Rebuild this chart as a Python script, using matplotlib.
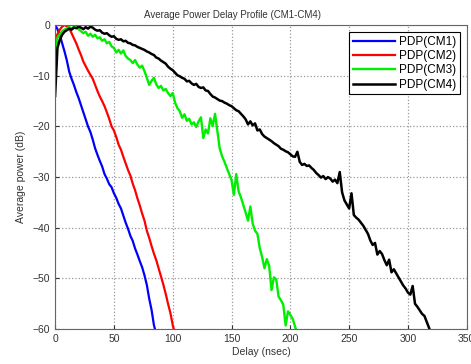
import numpy as np
import matplotlib.pyplot as plt

plt.rcParams['font.family'] = ['Liberation Sans', 'DejaVu Sans']

# sampling step of the profiles (ns)
paso = 2.0

pdp_cm1 = [0.0, -0.8, -2.0, -3.6, -5.2, -7.0, -9.2, -10.6, -11.8, -13.2,
           -14.4, -15.8, -17.2, -18.6, -20.0, -21.1, -22.6, -24.3, -25.6, -26.8,
           -27.9, -29.4, -30.3, -31.4, -32.0, -33.2, -34.1, -35.3, -36.2, -37.6,
           -39.0, -40.2, -41.6, -42.6, -44.1, -45.3, -46.6, -47.8, -49.4, -51.3,
           -54.0, -56.2, -59.2, -61.0]

pdp_cm2 = [-3.0, -1.8, -0.9, -0.3, 0.0, -0.2, -0.6, -1.6, -2.6, -3.6,
           -4.8, -5.9, -7.2, -8.1, -9.0, -9.8, -10.6, -11.8, -13.0, -14.1,
           -15.0, -16.0, -17.2, -18.5, -20.0, -20.8, -22.1, -23.6, -24.6, -26.0,
           -27.3, -28.6, -29.7, -31.3, -32.6, -34.2, -35.6, -37.2, -38.6, -40.6,
           -42.0, -43.6, -45.1, -46.4, -48.0, -49.6, -51.2, -53.0, -55.0, -56.8,
           -59.2, -61.0]

pdp_cm3 = [-6.3, -2.5, -1.8, -1.2, -0.9, -0.6, -0.4, -0.7, -0.3, -0.5,
           -0.8, -1.2, -1.6, -1.3, -2.1, -1.7, -2.3, -1.9, -2.6, -2.4,
           -3.1, -2.8, -3.6, -3.3, -4.2, -4.5, -5.4, -4.9, -5.6, -5.0,
           -6.1, -6.6, -6.9, -7.5, -6.9, -7.8, -8.4, -8.0, -9.1, -10.4,
           -11.8, -11.0, -10.4, -11.7, -12.4, -12.0, -12.9, -12.6, -13.4, -14.0,
           -13.4, -15.3, -16.4, -17.0, -18.3, -17.6, -18.9, -18.5, -19.6, -19.2,
           -20.1, -19.0, -18.2, -22.3, -20.6, -21.4, -18.4, -19.9, -17.5, -21.0,
           -24.4, -25.9, -27.0, -28.2, -29.4, -30.6, -33.5, -29.4, -32.8, -34.0,
           -35.5, -37.0, -38.6, -35.8, -39.2, -40.6, -41.2, -44.0, -45.8, -48.0,
           -46.2, -47.5, -52.3, -49.8, -50.2, -53.6, -54.3, -55.2, -59.3, -56.5,
           -57.2, -58.0, -59.5, -61.0]

pdp_cm4 = [-14.0, -4.5, -2.9, -1.9, -1.3, -1.0, -0.7, -0.9, -0.5, -0.6,
           -0.3, -0.5, -0.8, -0.4, -0.7, -0.3, -0.5, -0.9, -1.1, -1.0,
           -1.5, -1.7, -1.6, -2.0, -2.3, -2.2, -2.7, -2.9, -2.8, -3.2,
           -3.1, -3.5, -3.6, -3.9, -4.0, -4.3, -4.5, -4.7, -4.9, -5.2,
           -5.4, -5.7, -5.9, -6.4, -6.6, -7.0, -7.3, -7.6, -8.2, -8.6,
           -8.9, -9.4, -9.9, -10.1, -10.4, -10.6, -11.1, -11.0, -11.5, -11.8,
           -11.6, -12.2, -12.4, -12.3, -12.9, -13.0, -13.6, -14.1, -14.3, -14.6,
           -14.9, -15.0, -15.3, -15.5, -15.8, -16.0, -16.4, -16.8, -17.0, -17.5,
           -18.0, -18.6, -19.6, -19.0, -19.8, -19.4, -20.8, -20.6, -21.5, -22.0,
           -22.3, -22.6, -22.9, -23.3, -23.6, -23.9, -24.4, -24.6, -24.9, -25.1,
           -25.5, -25.9, -26.0, -25.0, -27.0, -27.6, -27.4, -27.8, -27.7, -28.2,
           -28.6, -29.2, -29.6, -30.1, -29.8, -30.4, -30.0, -30.3, -30.9, -30.5,
           -31.2, -29.0, -33.0, -34.6, -35.4, -36.2, -33.2, -37.5, -38.0, -38.4,
           -39.0, -39.6, -40.4, -41.2, -42.5, -43.4, -43.0, -45.3, -44.6, -45.2,
           -46.4, -47.4, -46.3, -48.8, -48.2, -49.0, -49.8, -50.6, -51.4, -52.0,
           -52.8, -53.2, -51.5, -55.0, -55.6, -56.3, -57.0, -57.4, -58.6, -59.8,
           -61.0]

curvas = [(pdp_cm1, 'b', 'PDP(CM1)', 1.6),
          (pdp_cm2, 'r', 'PDP(CM2)', 1.6),
          (pdp_cm3, '#00ee00', 'PDP(CM3)', 1.7),
          (pdp_cm4, 'k', 'PDP(CM4)', 1.8)]

fig = plt.figure(figsize=(4.71, 3.64), dpi=100)
ax = fig.add_axes([0.117, 0.096, 0.874, 0.835])

for datos, color, nombre, grosor in curvas:
    retardo = np.arange(len(datos)) * paso
    ax.plot(retardo, datos, color=color, linewidth=grosor, label=nombre)

ax.set_xlim(0, 350)
ax.set_ylim(-60, 0)
ax.set_xticks(np.arange(0, 351, 50))
ax.set_yticks(np.arange(-60, 1, 10))
ax.grid(True, linestyle=':', color='#999999', linewidth=0.9)
ax.tick_params(direction='in', labelsize=7.5, colors='#333333', length=3)
for s in ax.spines.values():
    s.set_color('#666666')

ax.set_title('Average Power Delay Profile (CM1-CM4)', fontsize=7, color='#333333',
             pad=5, x=0.43)
ax.set_xlabel('Delay (nsec)', fontsize=7.5, color='#333333', labelpad=2)
ax.set_ylabel('Average power (dB)', fontsize=7.5, color='#333333', labelpad=5)

leg = ax.legend(loc='upper right', fontsize=8.5, handlelength=3.6, fancybox=False,
                borderpad=0.3, labelspacing=0.2, handletextpad=0.3,
                borderaxespad=0.6, framealpha=1)
leg.get_frame().set_edgecolor('k')
leg.get_frame().set_linewidth(0.8)

plt.savefig('out.png', dpi=100)
